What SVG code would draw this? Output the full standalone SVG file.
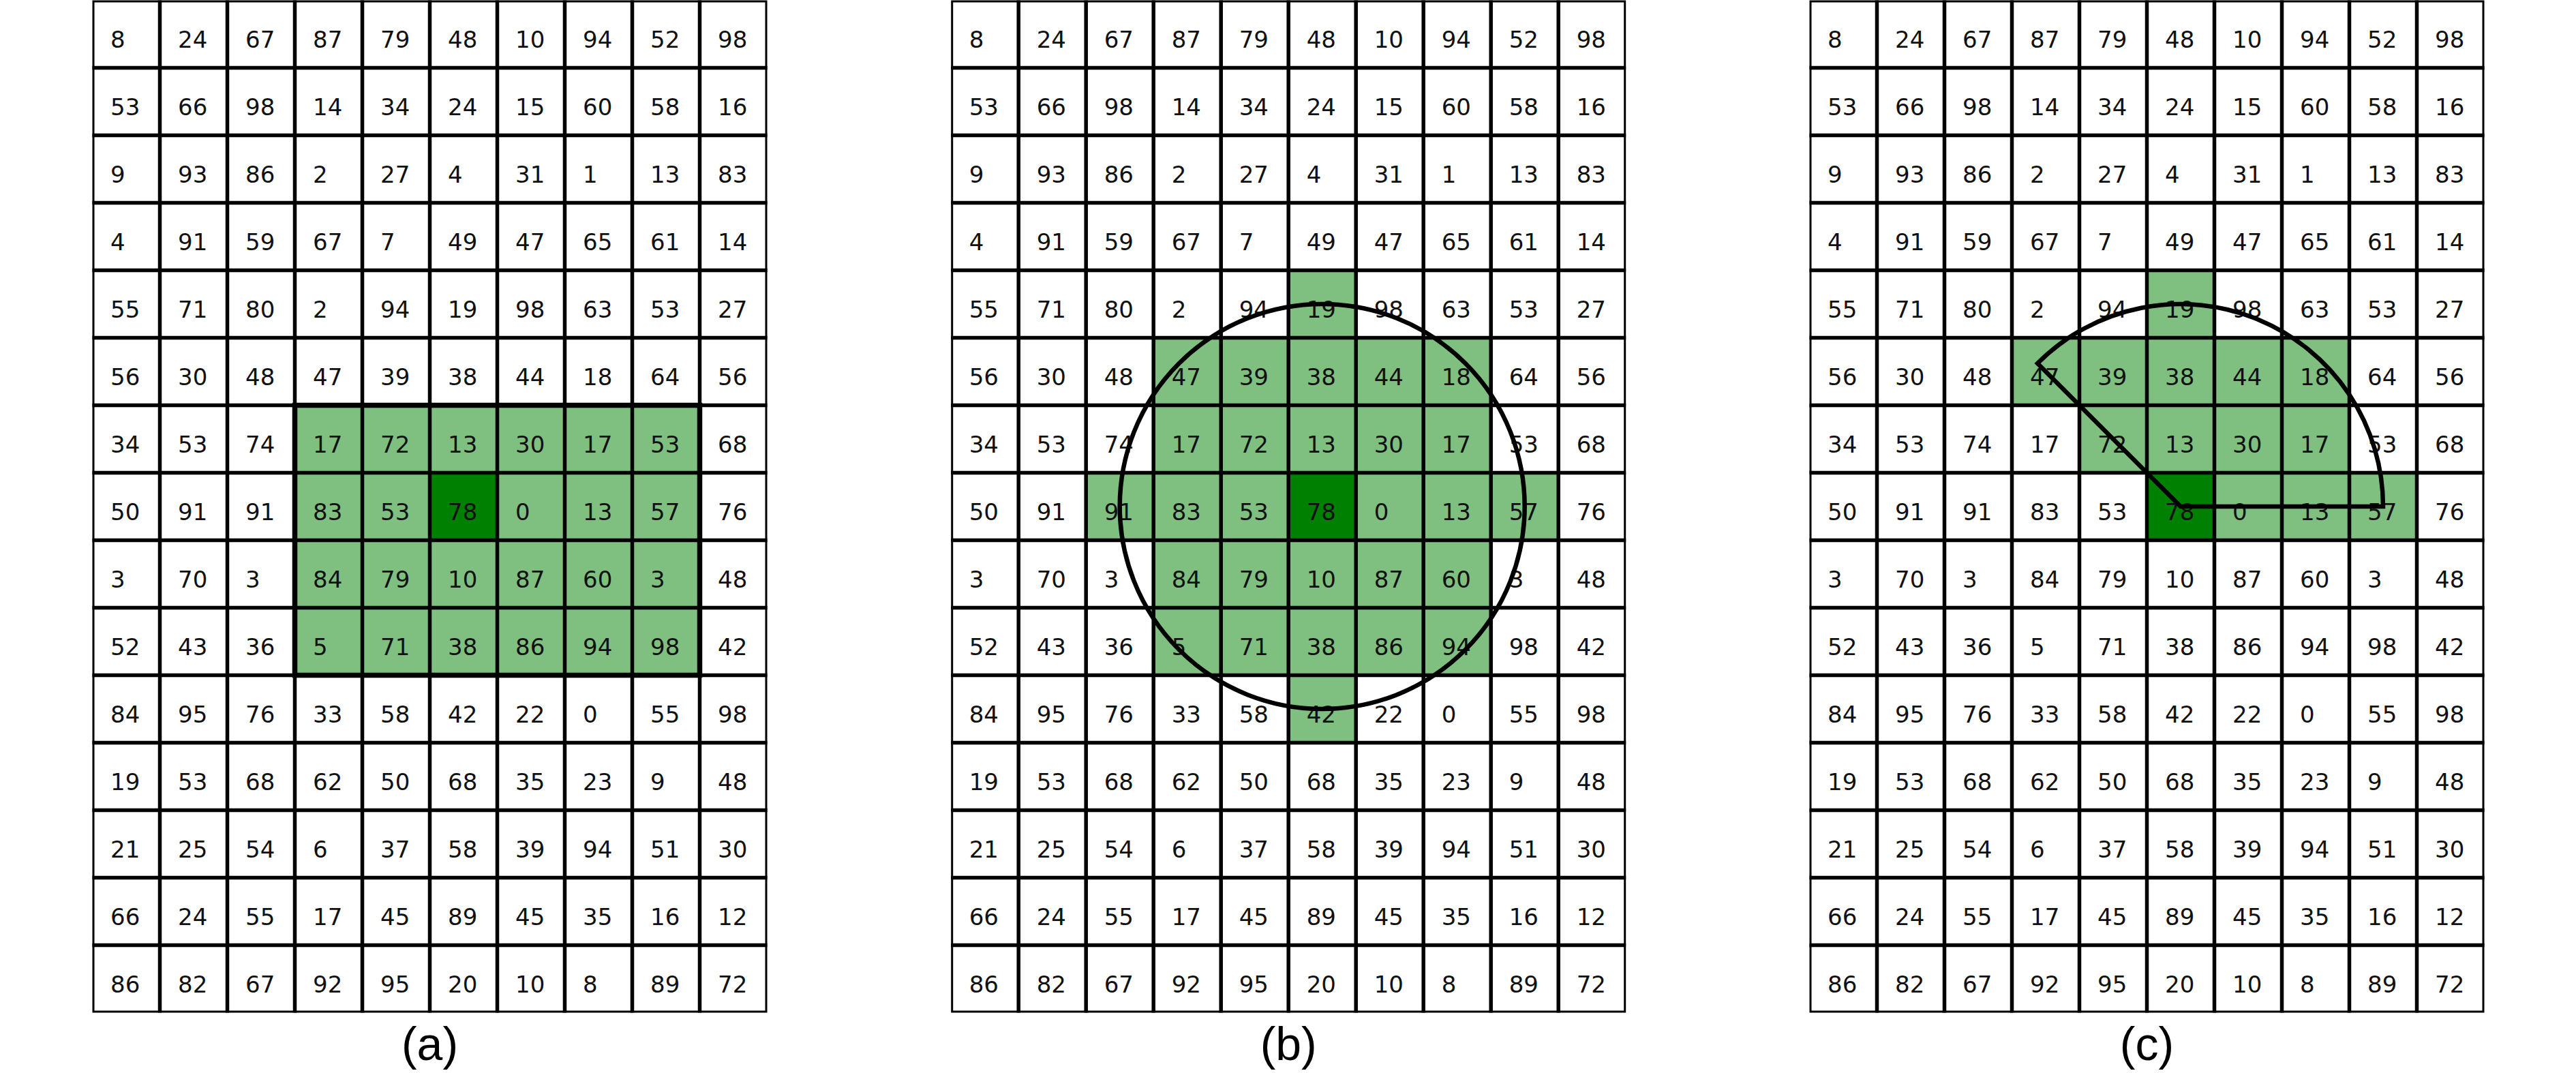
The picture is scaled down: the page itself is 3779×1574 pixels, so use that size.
<svg xmlns="http://www.w3.org/2000/svg" width="3779" height="1574" viewBox="0 0 3779 1574">
<style>
.bg{fill:#ffffff}
.lt{fill:#7fbf7f}
.dk{fill:#008000}
.in{fill:none;stroke:#000;stroke-width:5.5}
.out{fill:none;stroke:#000;stroke-width:3}
.num{font-family:"DejaVu Sans",sans-serif;font-size:34px;fill:#111}
.lab{font-family:"Liberation Sans",Arial,sans-serif;font-size:68px;fill:#000;text-anchor:middle}
.shape{fill:none;stroke:#000;stroke-width:6.5;stroke-linejoin:miter}
.hl{fill:none;stroke:#000;stroke-width:7.5}
</style>
<defs>
<path id="inner" d="M99 0V1485M198 0V1485M297 0V1485M396 0V1485M495 0V1485M594 0V1485M693 0V1485M792 0V1485M891 0V1485M0 99H990M0 198H990M0 297H990M0 396H990M0 495H990M0 594H990M0 693H990M0 792H990M0 891H990M0 990H990M0 1089H990M0 1188H990M0 1287H990M0 1386H990"/>
</defs>
<rect class="bg" x="0" y="0" width="3779" height="1574"/>

<g id="grid-a" transform="translate(135.5,0.5)">
<g id="fills-a">
<rect class="lt" x="297" y="594" width="594" height="396"/>
<rect class="dk" x="495" y="693" width="99" height="99"/>
</g>
<use href="#inner" class="in"/>
<rect class="out" x="1.5" y="1.5" width="987" height="1482"/>
<rect class="hl" x="297" y="594" width="594" height="396"/>
<g class="num">
<text y="69"><tspan x="26.5">8</tspan><tspan x="125.5">24</tspan><tspan x="224.5">67</tspan><tspan x="323.5">87</tspan><tspan x="422.5">79</tspan><tspan x="521.5">48</tspan><tspan x="620.5">10</tspan><tspan x="719.5">94</tspan><tspan x="818.5">52</tspan><tspan x="917.5">98</tspan></text>
<text y="168"><tspan x="26.5">53</tspan><tspan x="125.5">66</tspan><tspan x="224.5">98</tspan><tspan x="323.5">14</tspan><tspan x="422.5">34</tspan><tspan x="521.5">24</tspan><tspan x="620.5">15</tspan><tspan x="719.5">60</tspan><tspan x="818.5">58</tspan><tspan x="917.5">16</tspan></text>
<text y="267"><tspan x="26.5">9</tspan><tspan x="125.5">93</tspan><tspan x="224.5">86</tspan><tspan x="323.5">2</tspan><tspan x="422.5">27</tspan><tspan x="521.5">4</tspan><tspan x="620.5">31</tspan><tspan x="719.5">1</tspan><tspan x="818.5">13</tspan><tspan x="917.5">83</tspan></text>
<text y="366"><tspan x="26.5">4</tspan><tspan x="125.5">91</tspan><tspan x="224.5">59</tspan><tspan x="323.5">67</tspan><tspan x="422.5">7</tspan><tspan x="521.5">49</tspan><tspan x="620.5">47</tspan><tspan x="719.5">65</tspan><tspan x="818.5">61</tspan><tspan x="917.5">14</tspan></text>
<text y="465"><tspan x="26.5">55</tspan><tspan x="125.5">71</tspan><tspan x="224.5">80</tspan><tspan x="323.5">2</tspan><tspan x="422.5">94</tspan><tspan x="521.5">19</tspan><tspan x="620.5">98</tspan><tspan x="719.5">63</tspan><tspan x="818.5">53</tspan><tspan x="917.5">27</tspan></text>
<text y="564"><tspan x="26.5">56</tspan><tspan x="125.5">30</tspan><tspan x="224.5">48</tspan><tspan x="323.5">47</tspan><tspan x="422.5">39</tspan><tspan x="521.5">38</tspan><tspan x="620.5">44</tspan><tspan x="719.5">18</tspan><tspan x="818.5">64</tspan><tspan x="917.5">56</tspan></text>
<text y="663"><tspan x="26.5">34</tspan><tspan x="125.5">53</tspan><tspan x="224.5">74</tspan><tspan x="323.5">17</tspan><tspan x="422.5">72</tspan><tspan x="521.5">13</tspan><tspan x="620.5">30</tspan><tspan x="719.5">17</tspan><tspan x="818.5">53</tspan><tspan x="917.5">68</tspan></text>
<text y="762"><tspan x="26.5">50</tspan><tspan x="125.5">91</tspan><tspan x="224.5">91</tspan><tspan x="323.5">83</tspan><tspan x="422.5">53</tspan><tspan x="521.5">78</tspan><tspan x="620.5">0</tspan><tspan x="719.5">13</tspan><tspan x="818.5">57</tspan><tspan x="917.5">76</tspan></text>
<text y="861"><tspan x="26.5">3</tspan><tspan x="125.5">70</tspan><tspan x="224.5">3</tspan><tspan x="323.5">84</tspan><tspan x="422.5">79</tspan><tspan x="521.5">10</tspan><tspan x="620.5">87</tspan><tspan x="719.5">60</tspan><tspan x="818.5">3</tspan><tspan x="917.5">48</tspan></text>
<text y="960"><tspan x="26.5">52</tspan><tspan x="125.5">43</tspan><tspan x="224.5">36</tspan><tspan x="323.5">5</tspan><tspan x="422.5">71</tspan><tspan x="521.5">38</tspan><tspan x="620.5">86</tspan><tspan x="719.5">94</tspan><tspan x="818.5">98</tspan><tspan x="917.5">42</tspan></text>
<text y="1059"><tspan x="26.5">84</tspan><tspan x="125.5">95</tspan><tspan x="224.5">76</tspan><tspan x="323.5">33</tspan><tspan x="422.5">58</tspan><tspan x="521.5">42</tspan><tspan x="620.5">22</tspan><tspan x="719.5">0</tspan><tspan x="818.5">55</tspan><tspan x="917.5">98</tspan></text>
<text y="1158"><tspan x="26.5">19</tspan><tspan x="125.5">53</tspan><tspan x="224.5">68</tspan><tspan x="323.5">62</tspan><tspan x="422.5">50</tspan><tspan x="521.5">68</tspan><tspan x="620.5">35</tspan><tspan x="719.5">23</tspan><tspan x="818.5">9</tspan><tspan x="917.5">48</tspan></text>
<text y="1257"><tspan x="26.5">21</tspan><tspan x="125.5">25</tspan><tspan x="224.5">54</tspan><tspan x="323.5">6</tspan><tspan x="422.5">37</tspan><tspan x="521.5">58</tspan><tspan x="620.5">39</tspan><tspan x="719.5">94</tspan><tspan x="818.5">51</tspan><tspan x="917.5">30</tspan></text>
<text y="1356"><tspan x="26.5">66</tspan><tspan x="125.5">24</tspan><tspan x="224.5">55</tspan><tspan x="323.5">17</tspan><tspan x="422.5">45</tspan><tspan x="521.5">89</tspan><tspan x="620.5">45</tspan><tspan x="719.5">35</tspan><tspan x="818.5">16</tspan><tspan x="917.5">12</tspan></text>
<text y="1455"><tspan x="26.5">86</tspan><tspan x="125.5">82</tspan><tspan x="224.5">67</tspan><tspan x="323.5">92</tspan><tspan x="422.5">95</tspan><tspan x="521.5">20</tspan><tspan x="620.5">10</tspan><tspan x="719.5">8</tspan><tspan x="818.5">89</tspan><tspan x="917.5">72</tspan></text>
</g>
</g>

<g id="grid-b" transform="translate(1395.2,0.5)">
<g id="fills-b">
<rect class="lt" x="495" y="396" width="99" height="99"/>
<rect class="lt" x="297" y="495" width="495" height="198"/>
<rect class="lt" x="198" y="693" width="693" height="99"/>
<rect class="lt" x="297" y="792" width="495" height="198"/>
<rect class="lt" x="495" y="990" width="99" height="99"/>
<rect class="dk" x="495" y="693" width="99" height="99"/>
</g>
<use href="#inner" class="in"/>
<rect class="out" x="1.5" y="1.5" width="987" height="1482"/>
<g class="num">
<text y="69"><tspan x="26.5">8</tspan><tspan x="125.5">24</tspan><tspan x="224.5">67</tspan><tspan x="323.5">87</tspan><tspan x="422.5">79</tspan><tspan x="521.5">48</tspan><tspan x="620.5">10</tspan><tspan x="719.5">94</tspan><tspan x="818.5">52</tspan><tspan x="917.5">98</tspan></text>
<text y="168"><tspan x="26.5">53</tspan><tspan x="125.5">66</tspan><tspan x="224.5">98</tspan><tspan x="323.5">14</tspan><tspan x="422.5">34</tspan><tspan x="521.5">24</tspan><tspan x="620.5">15</tspan><tspan x="719.5">60</tspan><tspan x="818.5">58</tspan><tspan x="917.5">16</tspan></text>
<text y="267"><tspan x="26.5">9</tspan><tspan x="125.5">93</tspan><tspan x="224.5">86</tspan><tspan x="323.5">2</tspan><tspan x="422.5">27</tspan><tspan x="521.5">4</tspan><tspan x="620.5">31</tspan><tspan x="719.5">1</tspan><tspan x="818.5">13</tspan><tspan x="917.5">83</tspan></text>
<text y="366"><tspan x="26.5">4</tspan><tspan x="125.5">91</tspan><tspan x="224.5">59</tspan><tspan x="323.5">67</tspan><tspan x="422.5">7</tspan><tspan x="521.5">49</tspan><tspan x="620.5">47</tspan><tspan x="719.5">65</tspan><tspan x="818.5">61</tspan><tspan x="917.5">14</tspan></text>
<text y="465"><tspan x="26.5">55</tspan><tspan x="125.5">71</tspan><tspan x="224.5">80</tspan><tspan x="323.5">2</tspan><tspan x="422.5">94</tspan><tspan x="521.5">19</tspan><tspan x="620.5">98</tspan><tspan x="719.5">63</tspan><tspan x="818.5">53</tspan><tspan x="917.5">27</tspan></text>
<text y="564"><tspan x="26.5">56</tspan><tspan x="125.5">30</tspan><tspan x="224.5">48</tspan><tspan x="323.5">47</tspan><tspan x="422.5">39</tspan><tspan x="521.5">38</tspan><tspan x="620.5">44</tspan><tspan x="719.5">18</tspan><tspan x="818.5">64</tspan><tspan x="917.5">56</tspan></text>
<text y="663"><tspan x="26.5">34</tspan><tspan x="125.5">53</tspan><tspan x="224.5">74</tspan><tspan x="323.5">17</tspan><tspan x="422.5">72</tspan><tspan x="521.5">13</tspan><tspan x="620.5">30</tspan><tspan x="719.5">17</tspan><tspan x="818.5">53</tspan><tspan x="917.5">68</tspan></text>
<text y="762"><tspan x="26.5">50</tspan><tspan x="125.5">91</tspan><tspan x="224.5">91</tspan><tspan x="323.5">83</tspan><tspan x="422.5">53</tspan><tspan x="521.5">78</tspan><tspan x="620.5">0</tspan><tspan x="719.5">13</tspan><tspan x="818.5">57</tspan><tspan x="917.5">76</tspan></text>
<text y="861"><tspan x="26.5">3</tspan><tspan x="125.5">70</tspan><tspan x="224.5">3</tspan><tspan x="323.5">84</tspan><tspan x="422.5">79</tspan><tspan x="521.5">10</tspan><tspan x="620.5">87</tspan><tspan x="719.5">60</tspan><tspan x="818.5">3</tspan><tspan x="917.5">48</tspan></text>
<text y="960"><tspan x="26.5">52</tspan><tspan x="125.5">43</tspan><tspan x="224.5">36</tspan><tspan x="323.5">5</tspan><tspan x="422.5">71</tspan><tspan x="521.5">38</tspan><tspan x="620.5">86</tspan><tspan x="719.5">94</tspan><tspan x="818.5">98</tspan><tspan x="917.5">42</tspan></text>
<text y="1059"><tspan x="26.5">84</tspan><tspan x="125.5">95</tspan><tspan x="224.5">76</tspan><tspan x="323.5">33</tspan><tspan x="422.5">58</tspan><tspan x="521.5">42</tspan><tspan x="620.5">22</tspan><tspan x="719.5">0</tspan><tspan x="818.5">55</tspan><tspan x="917.5">98</tspan></text>
<text y="1158"><tspan x="26.5">19</tspan><tspan x="125.5">53</tspan><tspan x="224.5">68</tspan><tspan x="323.5">62</tspan><tspan x="422.5">50</tspan><tspan x="521.5">68</tspan><tspan x="620.5">35</tspan><tspan x="719.5">23</tspan><tspan x="818.5">9</tspan><tspan x="917.5">48</tspan></text>
<text y="1257"><tspan x="26.5">21</tspan><tspan x="125.5">25</tspan><tspan x="224.5">54</tspan><tspan x="323.5">6</tspan><tspan x="422.5">37</tspan><tspan x="521.5">58</tspan><tspan x="620.5">39</tspan><tspan x="719.5">94</tspan><tspan x="818.5">51</tspan><tspan x="917.5">30</tspan></text>
<text y="1356"><tspan x="26.5">66</tspan><tspan x="125.5">24</tspan><tspan x="224.5">55</tspan><tspan x="323.5">17</tspan><tspan x="422.5">45</tspan><tspan x="521.5">89</tspan><tspan x="620.5">45</tspan><tspan x="719.5">35</tspan><tspan x="818.5">16</tspan><tspan x="917.5">12</tspan></text>
<text y="1455"><tspan x="26.5">86</tspan><tspan x="125.5">82</tspan><tspan x="224.5">67</tspan><tspan x="323.5">92</tspan><tspan x="422.5">95</tspan><tspan x="521.5">20</tspan><tspan x="620.5">10</tspan><tspan x="719.5">8</tspan><tspan x="818.5">89</tspan><tspan x="917.5">72</tspan></text>
</g>
<circle id="circle-b" class="shape" cx="544.5" cy="742.5" r="297"/>
</g>

<g id="grid-c" transform="translate(2654.5,0.5)">
<g id="fills-c">
<rect class="lt" x="495" y="396" width="99" height="99"/>
<rect class="lt" x="297" y="495" width="495" height="99"/>
<rect class="lt" x="396" y="594" width="396" height="99"/>
<rect class="lt" x="594" y="693" width="297" height="99"/>
<rect class="dk" x="495" y="693" width="99" height="99"/>
</g>
<use href="#inner" class="in"/>
<rect class="out" x="1.5" y="1.5" width="987" height="1482"/>
<g class="num">
<text y="69"><tspan x="26.5">8</tspan><tspan x="125.5">24</tspan><tspan x="224.5">67</tspan><tspan x="323.5">87</tspan><tspan x="422.5">79</tspan><tspan x="521.5">48</tspan><tspan x="620.5">10</tspan><tspan x="719.5">94</tspan><tspan x="818.5">52</tspan><tspan x="917.5">98</tspan></text>
<text y="168"><tspan x="26.5">53</tspan><tspan x="125.5">66</tspan><tspan x="224.5">98</tspan><tspan x="323.5">14</tspan><tspan x="422.5">34</tspan><tspan x="521.5">24</tspan><tspan x="620.5">15</tspan><tspan x="719.5">60</tspan><tspan x="818.5">58</tspan><tspan x="917.5">16</tspan></text>
<text y="267"><tspan x="26.5">9</tspan><tspan x="125.5">93</tspan><tspan x="224.5">86</tspan><tspan x="323.5">2</tspan><tspan x="422.5">27</tspan><tspan x="521.5">4</tspan><tspan x="620.5">31</tspan><tspan x="719.5">1</tspan><tspan x="818.5">13</tspan><tspan x="917.5">83</tspan></text>
<text y="366"><tspan x="26.5">4</tspan><tspan x="125.5">91</tspan><tspan x="224.5">59</tspan><tspan x="323.5">67</tspan><tspan x="422.5">7</tspan><tspan x="521.5">49</tspan><tspan x="620.5">47</tspan><tspan x="719.5">65</tspan><tspan x="818.5">61</tspan><tspan x="917.5">14</tspan></text>
<text y="465"><tspan x="26.5">55</tspan><tspan x="125.5">71</tspan><tspan x="224.5">80</tspan><tspan x="323.5">2</tspan><tspan x="422.5">94</tspan><tspan x="521.5">19</tspan><tspan x="620.5">98</tspan><tspan x="719.5">63</tspan><tspan x="818.5">53</tspan><tspan x="917.5">27</tspan></text>
<text y="564"><tspan x="26.5">56</tspan><tspan x="125.5">30</tspan><tspan x="224.5">48</tspan><tspan x="323.5">47</tspan><tspan x="422.5">39</tspan><tspan x="521.5">38</tspan><tspan x="620.5">44</tspan><tspan x="719.5">18</tspan><tspan x="818.5">64</tspan><tspan x="917.5">56</tspan></text>
<text y="663"><tspan x="26.5">34</tspan><tspan x="125.5">53</tspan><tspan x="224.5">74</tspan><tspan x="323.5">17</tspan><tspan x="422.5">72</tspan><tspan x="521.5">13</tspan><tspan x="620.5">30</tspan><tspan x="719.5">17</tspan><tspan x="818.5">53</tspan><tspan x="917.5">68</tspan></text>
<text y="762"><tspan x="26.5">50</tspan><tspan x="125.5">91</tspan><tspan x="224.5">91</tspan><tspan x="323.5">83</tspan><tspan x="422.5">53</tspan><tspan x="521.5">78</tspan><tspan x="620.5">0</tspan><tspan x="719.5">13</tspan><tspan x="818.5">57</tspan><tspan x="917.5">76</tspan></text>
<text y="861"><tspan x="26.5">3</tspan><tspan x="125.5">70</tspan><tspan x="224.5">3</tspan><tspan x="323.5">84</tspan><tspan x="422.5">79</tspan><tspan x="521.5">10</tspan><tspan x="620.5">87</tspan><tspan x="719.5">60</tspan><tspan x="818.5">3</tspan><tspan x="917.5">48</tspan></text>
<text y="960"><tspan x="26.5">52</tspan><tspan x="125.5">43</tspan><tspan x="224.5">36</tspan><tspan x="323.5">5</tspan><tspan x="422.5">71</tspan><tspan x="521.5">38</tspan><tspan x="620.5">86</tspan><tspan x="719.5">94</tspan><tspan x="818.5">98</tspan><tspan x="917.5">42</tspan></text>
<text y="1059"><tspan x="26.5">84</tspan><tspan x="125.5">95</tspan><tspan x="224.5">76</tspan><tspan x="323.5">33</tspan><tspan x="422.5">58</tspan><tspan x="521.5">42</tspan><tspan x="620.5">22</tspan><tspan x="719.5">0</tspan><tspan x="818.5">55</tspan><tspan x="917.5">98</tspan></text>
<text y="1158"><tspan x="26.5">19</tspan><tspan x="125.5">53</tspan><tspan x="224.5">68</tspan><tspan x="323.5">62</tspan><tspan x="422.5">50</tspan><tspan x="521.5">68</tspan><tspan x="620.5">35</tspan><tspan x="719.5">23</tspan><tspan x="818.5">9</tspan><tspan x="917.5">48</tspan></text>
<text y="1257"><tspan x="26.5">21</tspan><tspan x="125.5">25</tspan><tspan x="224.5">54</tspan><tspan x="323.5">6</tspan><tspan x="422.5">37</tspan><tspan x="521.5">58</tspan><tspan x="620.5">39</tspan><tspan x="719.5">94</tspan><tspan x="818.5">51</tspan><tspan x="917.5">30</tspan></text>
<text y="1356"><tspan x="26.5">66</tspan><tspan x="125.5">24</tspan><tspan x="224.5">55</tspan><tspan x="323.5">17</tspan><tspan x="422.5">45</tspan><tspan x="521.5">89</tspan><tspan x="620.5">45</tspan><tspan x="719.5">35</tspan><tspan x="818.5">16</tspan><tspan x="917.5">12</tspan></text>
<text y="1455"><tspan x="26.5">86</tspan><tspan x="125.5">82</tspan><tspan x="224.5">67</tspan><tspan x="323.5">92</tspan><tspan x="422.5">95</tspan><tspan x="521.5">20</tspan><tspan x="620.5">10</tspan><tspan x="719.5">8</tspan><tspan x="818.5">89</tspan><tspan x="917.5">72</tspan></text>
</g>
<path id="sector-c" class="shape" d="M544.5 742.5L841.5 742.5A297 297 0 0 0 334.5 532.5Z"/>
</g>

<g id="labels">
<text class="lab" x="630.5" y="1555">(a)</text>
<text class="lab" x="1890.2" y="1555">(b)</text>
<text class="lab" x="3149.5" y="1555">(c)</text>
</g>
</svg>
